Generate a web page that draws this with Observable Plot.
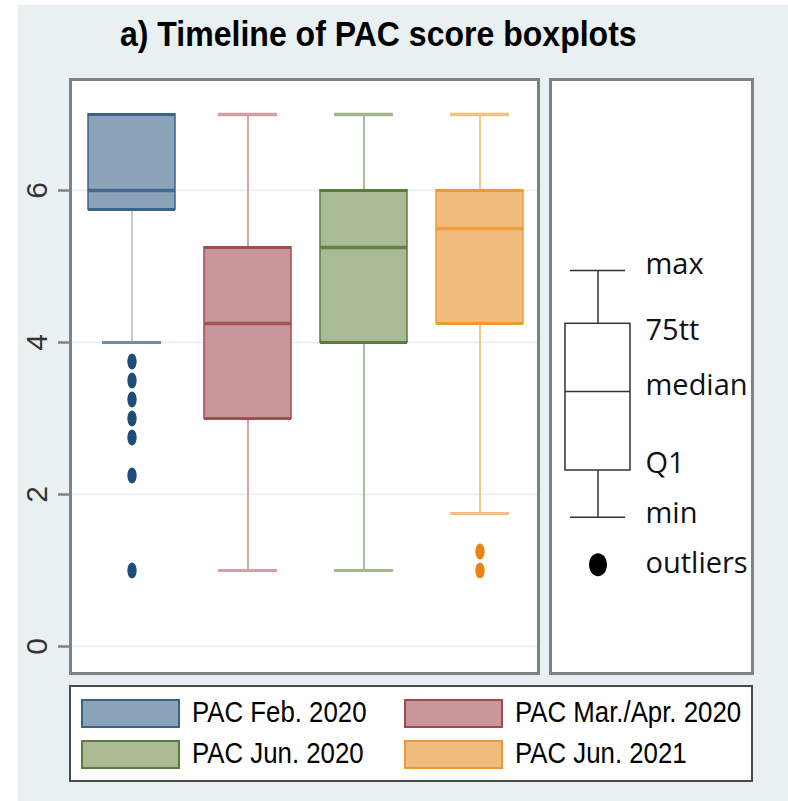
<!DOCTYPE html>
<html>
<head>
<meta charset="utf-8">
<script src="https://cdn.jsdelivr.net/npm/d3@7"></script>
<script src="https://cdn.jsdelivr.net/npm/@observablehq/plot@0.6"></script>
<style>
html,body{margin:0;padding:0;background:#fff;}
#page{position:relative;width:788px;height:801px;overflow:hidden;}
#bg{position:absolute;left:18px;top:5px;right:0;bottom:0;background:#e8f0f2;}
#title{position:absolute;left:0;width:756px;top:16px;text-align:center;color:#000;white-space:nowrap;}
#title span{display:inline-block;font:bold 35px/35px "Liberation Sans",Arial,sans-serif;transform:scaleX(0.915);transform-origin:center center;}
#main{position:absolute;left:0;top:0;}
#key{position:absolute;left:545px;top:0;}
#legend{position:absolute;left:69px;top:685px;width:684px;height:97px;box-sizing:border-box;border:2px solid #4a4a4a;background:#fff;}
.sw{position:absolute;width:99px;height:29px;box-sizing:border-box;border:2px solid;}
.lab{position:absolute;font:30px/30px "Liberation Sans",Arial,sans-serif;color:#000;white-space:nowrap;transform:scaleX(0.86);transform-origin:left center;}
</style>
</head>
<body>
<div id="page">
  <div id="bg"></div>
  <div id="title"><span>a) Timeline of PAC score boxplots</span></div>
  <div id="main"></div>
  <div id="key"></div>
  <div id="legend"></div>
</div>
<script>
// ---- data ----
const groups = ["PAC Feb. 2020", "PAC Mar./Apr. 2020", "PAC Jun. 2020", "PAC Jun. 2021"];
const q1Values = [5.75, 3, 4, 4.25];
const medianValues = [6, 4.25, 5.25, 5.5];
const q3Values = [7, 5.25, 6, 6];
const whiskerLow = [4, 1, 1, 1.75];
const whiskerHigh = [7, 7, 7, 7];
const outlierGroups = ["PAC Feb. 2020", "PAC Feb. 2020", "PAC Feb. 2020", "PAC Feb. 2020", "PAC Feb. 2020", "PAC Feb. 2020", "PAC Feb. 2020", "PAC Jun. 2021", "PAC Jun. 2021"];
const outlierValues = [3.75, 3.5, 3.25, 3, 2.75, 2.25, 1, 1.25, 1];
const yTicks = [0, 2, 4, 6];

// key (schematic) : max, 75th, median, Q1, min, outlier
const keyLabels = ["max", "75tt", "median", "Q1", "min", "outliers"];
const keyValues = [4.947, 4.246, 3.355, 2.316, 1.70, 1.075];
const keyLabelY = [5.03, 4.16, 3.425, 2.40, 1.745, 1.087];

// ---- styles ----
const fillColors = ["#8ba3b9", "#c8979b", "#a9ba95", "#f0bd7c"];
const lineColors = ["#3b628a", "#a34a51", "#5b7b3a", "#ec9a38"];
const whiskerColors = ["#bfcddb", "#d6a3a7", "#aabd96", "#f7c68a"];
const capColors = ["#6e8dac", "#d49ea2", "#a3b78e", "#f5bf7d"];
const dotColors = {"PAC Feb. 2020": "#1f4d78", "PAC Jun. 2021": "#e8850f"};

const boxes = groups.map((g, i) => ({
  group: g, q1: q1Values[i], median: medianValues[i], q3: q3Values[i],
  lo: whiskerLow[i], hi: whiskerHigh[i],
  fill: fillColors[i], line: lineColors[i], whisker: whiskerColors[i], cap: capColors[i]
}));
const outliers = outlierValues.map((v, i) => ({group: outlierGroups[i], value: v}));

function ellipse(ratio) {
  return {
    draw(ctx, size) {
      const ry = Math.sqrt(size / Math.PI), rx = ry * ratio, k = 0.5523;
      ctx.moveTo(rx, 0);
      ctx.bezierCurveTo(rx, ry * k, rx * k, ry, 0, ry);
      ctx.bezierCurveTo(-rx * k, ry, -rx, ry * k, -rx, 0);
      ctx.bezierCurveTo(-rx, -ry * k, -rx * k, -ry, 0, -ry);
      ctx.bezierCurveTo(rx * k, -ry, rx, -ry * k, rx, 0);
      ctx.closePath();
    }
  };
}

const yDomain = [-0.35526, 7.46053];
const H = 680, MT = 79, MB = 7;

const main = Plot.plot({
  width: 545, height: H,
  marginLeft: 70, marginRight: 7, marginTop: MT, marginBottom: MB,
  style: {background: "transparent", overflow: "visible"},
  x: {type: "band", domain: groups, range: [73, 538], paddingInner: 0.25, paddingOuter: 0.125, axis: null},
  y: {domain: yDomain, axis: null},
  color: {type: "identity"},
  marks: [
    Plot.frame({fill: "white", stroke: "none"}),
    Plot.ruleY(yTicks, {y: d => d, stroke: "#e4eeef", strokeWidth: 1.5}),
    Plot.ruleX(boxes, {x: "group", y1: "q1", y2: "lo", stroke: "whisker", strokeWidth: 2}),
    Plot.ruleX(boxes, {x: "group", y1: "q3", y2: "hi", stroke: "whisker", strokeWidth: 2}),
    Plot.tickY(boxes, {x: "group", y: "lo", stroke: "cap", strokeWidth: 3, insetLeft: 14, insetRight: 14}),
    Plot.tickY(boxes.filter(d => d.hi > d.q3), {x: "group", y: "hi", stroke: "cap", strokeWidth: 3.5, insetLeft: 14, insetRight: 14}),
    Plot.barY(boxes, {x: "group", y1: "q1", y2: "q3", fill: "fill", stroke: "line", strokeWidth: 2, strokeOpacity: 0.75}),
    Plot.tickY(boxes, {x: "group", y: "q1", stroke: "line", strokeWidth: 3}),
    Plot.tickY(boxes, {x: "group", y: "q3", stroke: "line", strokeWidth: 3}),
    Plot.tickY(boxes, {x: "group", y: "median", stroke: "line", strokeWidth: 3.5, strokeOpacity: 0.9}),
    Plot.dot(outliers, {x: "group", y: "value", r: 8, symbol: ellipse(0.58), fill: d => dotColors[d.group], stroke: "none"}),
    Plot.axisY(yTicks, {tickSize: 12, tickFormat: () => "", stroke: "#808080", strokeWidth: 2.5}),
    Plot.text(yTicks, {y: d => d, text: d => String(d), frameAnchor: "left", dx: -33, rotate: -90,
      textAnchor: "middle", lineAnchor: "middle", fontSize: 30, fill: "#333", fontFamily: "Liberation Sans, Arial, sans-serif"}),
    Plot.frame({stroke: "#808080", strokeWidth: 3})
  ]
});
document.getElementById("main").appendChild(main);

const keyParts = {max: keyValues[0], q3: keyValues[1], median: keyValues[2], q1: keyValues[3], min: keyValues[4], out: keyValues[5]};
const keyItems = keyLabels.map((l, i) => ({label: l, y: keyLabelY[i]}));
const keyPlot = Plot.plot({
  width: 212, height: H,
  marginLeft: 5, marginRight: 5, marginTop: MT, marginBottom: MB,
  style: {background: "transparent", overflow: "visible"},
  x: {type: "band", domain: ["key"], range: [20, 85], padding: 0, axis: null},
  y: {domain: yDomain, axis: null},
  marks: [
    Plot.frame({fill: "white", stroke: "none"}),
    Plot.ruleX([keyParts], {x: () => "key", y1: "q3", y2: "max", stroke: "#333", strokeWidth: 1.5}),
    Plot.ruleX([keyParts], {x: () => "key", y1: "q1", y2: "min", stroke: "#333", strokeWidth: 1.5}),
    Plot.tickY([keyParts.max, keyParts.min], {x: () => "key", y: d => d, stroke: "#333", strokeWidth: 1.5, insetLeft: 5, insetRight: 5}),
    Plot.barY([keyParts], {x: () => "key", y1: "q1", y2: "q3", fill: "white", stroke: "#333", strokeWidth: 1.5}),
    Plot.tickY([keyParts.median], {x: () => "key", y: d => d, stroke: "#333", strokeWidth: 1.5}),
    Plot.dot([keyParts.out], {x: () => "key", y: d => d, r: 11.5, symbol: ellipse(0.78), fill: "#000", stroke: "none"}),
    Plot.text(keyItems, {x: () => "key", y: "y", text: "label", dx: 47.5, textAnchor: "start", lineAnchor: "middle",
      fontSize: 29, fill: "#111", fontFamily: "Open Sans, Noto Sans, sans-serif"}),
    Plot.frame({stroke: "#808080", strokeWidth: 3})
  ]
});
document.getElementById("key").appendChild(keyPlot);

// legend
const legend = document.getElementById("legend");
const legPos = [[10, 12], [333, 12], [10, 53], [333, 53]];
groups.forEach((g, i) => {
  const [lx, ly] = legPos[i];
  const sw = document.createElement("div");
  sw.className = "sw";
  sw.style.left = lx + "px"; sw.style.top = ly + "px";
  sw.style.background = fillColors[i]; sw.style.borderColor = lineColors[i];
  legend.appendChild(sw);
  const lab = document.createElement("div");
  lab.className = "lab";
  lab.textContent = g;
  lab.style.left = (lx + 111) + "px"; lab.style.top = (ly - 2.4) + "px";
  legend.appendChild(lab);
});
</script>
</body>
</html>
